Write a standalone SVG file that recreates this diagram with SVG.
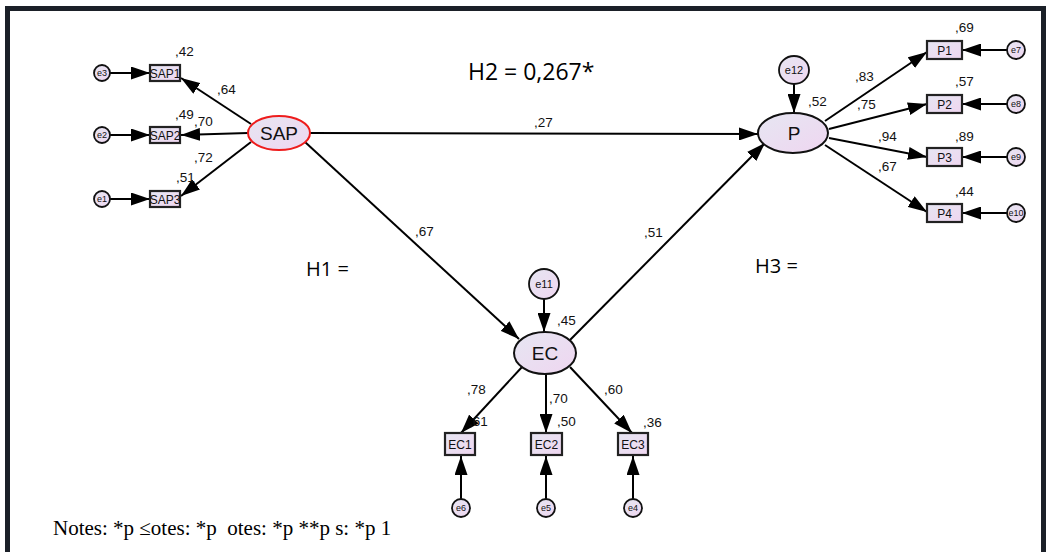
<svg xmlns="http://www.w3.org/2000/svg" width="1046" height="552" viewBox="0 0 1046 552">
  <defs>
    <linearGradient id="nodeFill" x1="0" y1="0" x2="1" y2="1">
      <stop offset="0" stop-color="#e6e6f2"/>
      <stop offset="1" stop-color="#efd6f0"/>
    </linearGradient>
    <marker id="arrow" markerUnits="userSpaceOnUse" markerWidth="19" markerHeight="13" refX="19" refY="6.5" orient="auto">
      <path d="M0,0 L19,6.5 L0,13 z" fill="#000"/>
    </marker>
    <style>
      .frame { fill: none; stroke: #1b2028; stroke-width: 5; }
      .lat { fill: url(#nodeFill); stroke: #111; stroke-width: 2; }
      .lat-red { fill: url(#nodeFill); stroke: #ee1c1c; stroke-width: 2; }
      .obs { fill: url(#nodeFill); stroke: #222; stroke-width: 2.2; }
      .err { fill: url(#nodeFill); stroke: #111; stroke-width: 1.8; }
      .edge { stroke: #000; stroke-width: 2; fill: none; marker-end: url(#arrow); }
      .t { font-family: "Liberation Sans", Arial, sans-serif; fill: #111; }
      .big { font-size: 19px; text-anchor: middle; }
      .box { font-size: 12px; text-anchor: middle; }
      .e { font-size: 9px; text-anchor: middle; }
      .e11 { font-size: 11px; text-anchor: middle; }
      .coef { font-size: 13.5px; }
      .hyp { font-family: "Open Sans", "Liberation Sans", sans-serif; font-size: 20px; fill: #000; }
      .note { font-family: "Liberation Serif", "Times New Roman", serif; font-size: 21px; fill: #000; white-space: pre; }
    </style>
  </defs>

  <rect width="1046" height="552" fill="#fff"/>
  <!-- outer frame, open at the bottom -->
  <path class="frame" d="M7.5,560 L7.5,8.5 L1043.5,8.5 L1043.5,560"/>

  <!-- connectors -->
  <g id="connectors">
    <!-- SAP indicators -->
    <line class="edge" x1="251" y1="124" x2="181" y2="78"/>
    <line class="edge" x1="248" y1="133" x2="181" y2="135"/>
    <line class="edge" x1="251" y1="142" x2="181" y2="196"/>
    <line class="edge" x1="110" y1="73" x2="150" y2="73"/>
    <line class="edge" x1="110" y1="135" x2="150" y2="135"/>
    <line class="edge" x1="110" y1="199" x2="150" y2="199"/>
    <!-- structural paths -->
    <line class="edge" x1="310" y1="133" x2="758" y2="134"/>
    <line class="edge" x1="305" y1="142" x2="519" y2="339"/>
    <line class="edge" x1="570" y1="340" x2="765" y2="143"/>
    <!-- P indicators -->
    <line class="edge" x1="825" y1="121" x2="927" y2="52"/>
    <line class="edge" x1="829" y1="129" x2="927" y2="104"/>
    <line class="edge" x1="829" y1="138" x2="927" y2="157"/>
    <line class="edge" x1="825" y1="145" x2="927" y2="212"/>
    <line class="edge" x1="794" y1="84" x2="794" y2="113"/>
    <line class="edge" x1="1007" y1="50" x2="962" y2="50"/>
    <line class="edge" x1="1007" y1="104" x2="962" y2="104"/>
    <line class="edge" x1="1007" y1="157" x2="962" y2="157"/>
    <line class="edge" x1="1007" y1="213" x2="962" y2="213"/>
    <!-- EC indicators -->
    <line class="edge" x1="544" y1="299" x2="544" y2="332"/>
    <line class="edge" x1="522" y1="367" x2="461" y2="433"/>
    <line class="edge" x1="546" y1="374" x2="546" y2="433"/>
    <line class="edge" x1="570" y1="367" x2="632" y2="433"/>
    <line class="edge" x1="461" y1="499" x2="461" y2="456"/>
    <line class="edge" x1="546" y1="499" x2="546" y2="456"/>
    <line class="edge" x1="633" y1="499" x2="633" y2="456"/>
  </g>

  <!-- latent variables -->
  <g id="SAP">
    <ellipse class="lat-red" cx="279" cy="133" rx="31" ry="17"/>
    <text class="t big" x="279" y="140">SAP</text>
  </g>
  <g id="P">
    <ellipse class="lat" cx="793" cy="133" rx="35" ry="20"/>
    <text class="t big" x="794" y="140">P</text>
  </g>
  <g id="EC">
    <ellipse class="lat" cx="545" cy="353" rx="31" ry="21"/>
    <text class="t big" x="545" y="360">EC</text>
  </g>

  <!-- SAP indicators -->
  <g id="SAP1"><rect class="obs" x="150" y="65" width="30" height="16"/><text class="t box" x="165" y="77.5">SAP1</text></g>
  <g id="SAP2"><rect class="obs" x="150" y="127" width="30" height="16"/><text class="t box" x="165" y="139.5">SAP2</text></g>
  <g id="SAP3"><rect class="obs" x="150" y="191" width="30" height="16"/><text class="t box" x="165" y="203.5">SAP3</text></g>
  <g id="e3"><circle class="err" cx="102" cy="73" r="8"/><text class="t e" x="102" y="76">e3</text></g>
  <g id="e2"><circle class="err" cx="102" cy="135" r="8"/><text class="t e" x="102" y="138">e2</text></g>
  <g id="e1"><circle class="err" cx="102" cy="199" r="8"/><text class="t e" x="102" y="202">e1</text></g>

  <!-- P indicators -->
  <g id="P1"><rect class="obs" x="927" y="41" width="35" height="18"/><text class="t box" x="944.5" y="54.5">P1</text></g>
  <g id="P2"><rect class="obs" x="927" y="95" width="35" height="18"/><text class="t box" x="944.5" y="108.5">P2</text></g>
  <g id="P3"><rect class="obs" x="927" y="148" width="35" height="18"/><text class="t box" x="944.5" y="161.5">P3</text></g>
  <g id="P4"><rect class="obs" x="927" y="204" width="35" height="18"/><text class="t box" x="944.5" y="217.5">P4</text></g>
  <g id="e7"><circle class="err" cx="1016" cy="50" r="9"/><text class="t e" x="1016" y="53">e7</text></g>
  <g id="e8"><circle class="err" cx="1016" cy="104" r="9"/><text class="t e" x="1016" y="107">e8</text></g>
  <g id="e9"><circle class="err" cx="1016" cy="157" r="9"/><text class="t e" x="1016" y="160">e9</text></g>
  <g id="e10"><circle class="err" cx="1016" cy="213" r="9"/><text class="t e" x="1016" y="216">e10</text></g>
  <g id="e12"><ellipse class="err" cx="794" cy="70" rx="15" ry="14"/><text class="t e11" x="794" y="74">e12</text></g>

  <!-- EC indicators -->
  <g id="EC1"><rect class="obs" x="445" y="433" width="30" height="22"/><text class="t box" x="460" y="448.5">EC1</text></g>
  <g id="EC2"><rect class="obs" x="531" y="433" width="31" height="22"/><text class="t box" x="546.5" y="448.5">EC2</text></g>
  <g id="EC3"><rect class="obs" x="618" y="433" width="30" height="22"/><text class="t box" x="633" y="448.5">EC3</text></g>
  <g id="e6"><circle class="err" cx="461" cy="508" r="9"/><text class="t e" x="461" y="511">e6</text></g>
  <g id="e5"><circle class="err" cx="546" cy="508" r="9"/><text class="t e" x="546" y="511">e5</text></g>
  <g id="e4"><circle class="err" cx="633" cy="508" r="9"/><text class="t e" x="633" y="511">e4</text></g>
  <g id="e11"><ellipse class="err" cx="544" cy="284" rx="15" ry="15"/><text class="t e11" x="544" y="288">e11</text></g>

  <!-- coefficients -->
  <g id="coefficients" class="t coef">
    <text x="175" y="56">,42</text>
    <text x="217" y="94">,64</text>
    <text x="175" y="119">,49</text>
    <text x="194" y="126">,70</text>
    <text x="194" y="162">,72</text>
    <text x="176" y="182">,51</text>
    <text x="534" y="127">,27</text>
    <text x="415" y="236">,67</text>
    <text x="644" y="237">,51</text>
    <text x="955" y="32">,69</text>
    <text x="855" y="81">,83</text>
    <text x="808" y="106">,52</text>
    <text x="857" y="109">,75</text>
    <text x="955" y="86">,57</text>
    <text x="878" y="141">,94</text>
    <text x="955" y="141">,89</text>
    <text x="878" y="171">,67</text>
    <text x="955" y="196">,44</text>
    <text x="557" y="325">,45</text>
    <text x="467" y="394">,78</text>
    <text x="549" y="403">,70</text>
    <text x="469" y="426">,61</text>
    <text x="557" y="426">,50</text>
    <text x="604" y="394">,60</text>
    <text x="643" y="427">,36</text>
  </g>

  <!-- hypothesis labels -->
  <g id="hypotheses">
    <text class="hyp" x="468" y="80" style="font-size:23px">H2 = 0,267*</text>
    <text class="hyp" x="306" y="276">H1 =</text>
    <text class="hyp" x="755" y="273">H3 =</text>
  </g>

  <text class="note" x="53" y="535" xml:space="preserve">Notes: *p ≤otes: *p  otes: *p **p s: *p 1</text>
</svg>
